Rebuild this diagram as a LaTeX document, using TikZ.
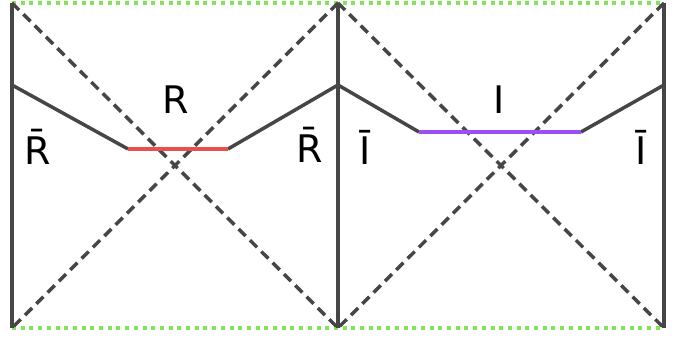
\documentclass[tikz,border=0pt]{standalone}
\usepackage{fontspec}
\setmainfont{DejaVu Sans}
\definecolor{hzgreen}{RGB}{130,228,90}
\definecolor{slred}{RGB}{232,80,80}
\definecolor{slviolet}{RGB}{155,80,245}
\definecolor{wallgray}{RGB}{70,70,70}
\begin{document}
\begin{tikzpicture}[x=1pt,y=-1pt,
  wall/.style={draw=wallgray,line width=3.5pt},
  diag/.style={draw=wallgray,line width=3.5pt,dash pattern=on 10pt off 6pt},
  horizon/.style={draw=hzgreen,line width=3.5pt,dash pattern=on 4pt off 4.7pt},
  lbl/.style={font=\fontsize{38}{40}\selectfont,inner sep=0pt,text=black}]
\useasboundingbox (0,0) rectangle (681,339);
% corners
\coordinate (TL) at (12,3);
\coordinate (TM) at (338,3);
\coordinate (TR) at (664,3);
\coordinate (BL) at (12,328);
\coordinate (BM) at (338,328);
\coordinate (BR) at (664,328);
% horizons
\draw[horizon] (TL) -- (TR);
\draw[horizon] (BL) -- (BR);
% diagonals
\draw[diag] (TL) -- (BM);
\draw[diag] (TM) -- (BL);
\draw[diag] (TM) -- (BR);
\draw[diag] (TR) -- (BM);
% walls
\draw[wall] (TL) -- (BL);
\draw[wall] (TM) -- (BM);
\draw[wall] (TR) -- (BR);
% slices
\coordinate (L1) at (12,85);
\coordinate (M1) at (338,85);
\coordinate (R1) at (664,85);
\coordinate (ra) at (128,149);
\coordinate (rb) at (228,149);
\coordinate (ia) at (419,132);
\coordinate (ib) at (581,132);
\draw[wall,line join=round] (L1) -- (ra);
\draw[wall,line join=round] (rb) -- (M1) -- (ia);
\draw[wall,line join=round] (ib) -- (R1);
\draw[line width=3.5pt,draw=slred] (ra) -- (rb);
\draw[line width=3.5pt,draw=slviolet] (ia) -- (ib);
% labels
\node[lbl] (lR) at (176,100) {R};
\node[lbl] (lRbl) at (38,147) {R̄};
\node[lbl] (lRbr) at (310,145) {R̄};
\node[lbl] (lIbl) at (365,147) {Ī};
\node[lbl] (lI) at (499,100) {I};
\node[lbl] (lIbr) at (641,147) {Ī};
\end{tikzpicture}
\end{document}
